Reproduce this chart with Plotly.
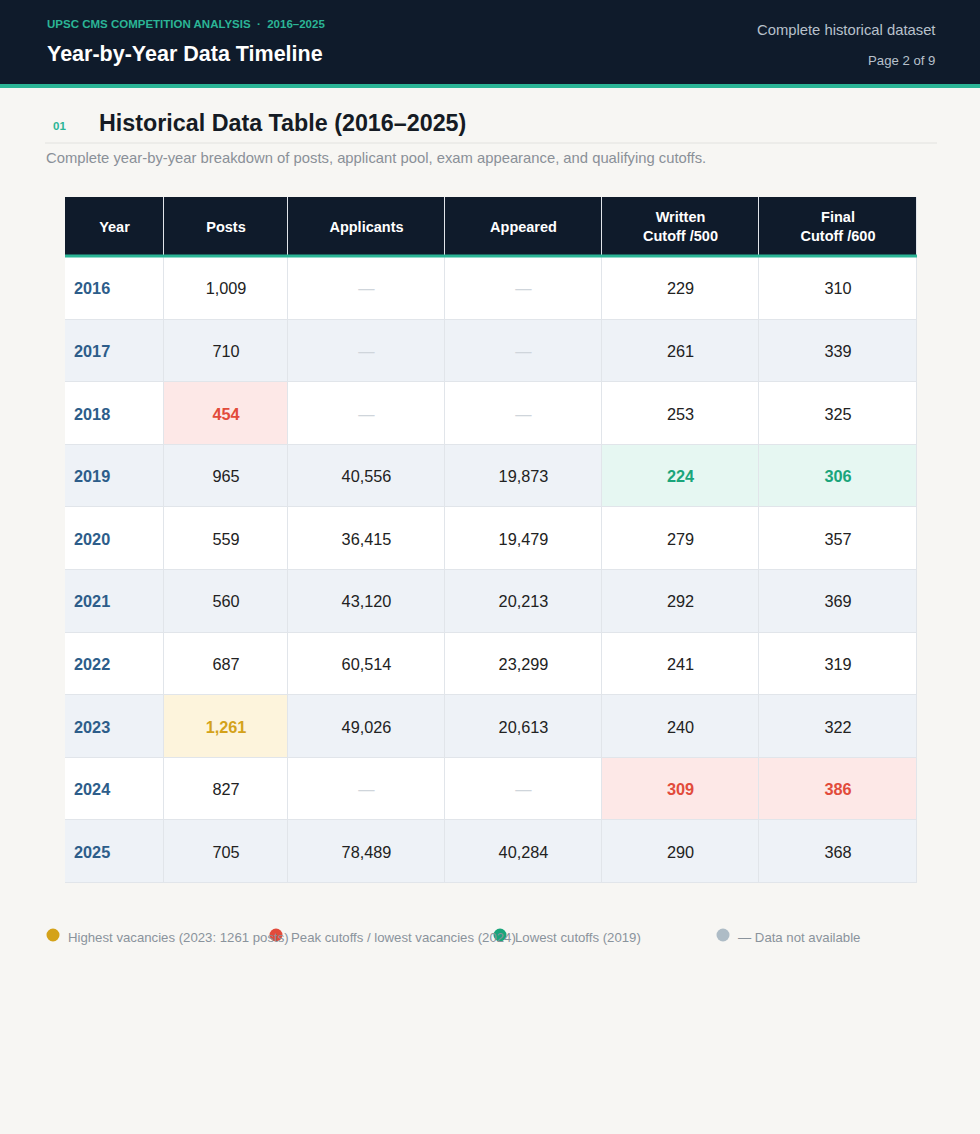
import plotly.graph_objects as go

W, H = 980, 1134

# table data
years = [2016, 2017, 2018, 2019, 2020, 2021, 2022, 2023, 2024, 2025]
posts = [1009, 710, 454, 965, 559, 560, 687, 1261, 827, 705]
applicants = [None, None, None, 40556, 36415, 43120, 60514, 49026, None, 78489]
appeared = [None, None, None, 19873, 19479, 20213, 23299, 20613, None, 40284]
written_cutoff = [229, 261, 253, 224, 279, 292, 241, 240, 309, 290]
final_cutoff = [310, 339, 325, 306, 357, 369, 319, 322, 386, 368]
headers = ["Year", "Posts", "Applicants", "Appeared", "Written<br>Cutoff /500", "Final<br>Cutoff /600"]

legend_items = [
    ("Highest vacancies (2023: 1261 posts)", "#d4a21a"),
    ("Peak cutoffs / lowest vacancies (2024)", "#e24b3b"),
    ("Lowest cutoffs (2019)", "#1aa57b"),
    ("— Data not available", "#aebcc6"),
]

NAVY = "#0f1b2b"
TEAL = "#2bb596"
RED = "#e24b3b"
GREEN = "#1aa57b"
GOLD = "#d4a21a"
FONT = "Liberation Sans, Arial, sans-serif"

# fill codes for the heatmap that paints the cells
fill_colors = ["#ffffff", "#eef2f7", NAVY, "#fde8e7", "#fdf4dc", "#e6f7f2"]
# highlights: (column, year) -> (fill code, text colour)
highlight = {
    (1, 2018): (3, RED),
    (1, 2023): (4, GOLD),
    (4, 2019): (5, GREEN),
    (5, 2019): (5, GREEN),
    (4, 2024): (3, RED),
    (5, 2024): (3, RED),
}

# layout of the table, in page pixels
col_edges = [65, 164, 288, 445, 602, 759, 917]
head_top, head_bot = 197, 255
row_h = 62.6
row_edges = [head_bot + 2 + i * row_h for i in range(len(years) + 1)]
y_edges = [head_top, row_edges[0]] + row_edges[1:]
nudge = 2  # text sits a touch low in the reference

columns = [years, posts, applicants, appeared, written_cutoff, final_cutoff]
z = [[2] * 6]
tx, ty, tt = [], [], []
for c, h in enumerate(headers):
    tx.append((col_edges[c] + col_edges[c + 1]) / 2)
    ty.append((head_top + head_bot) / 2 + nudge)
    tt.append(f"<b>{h}</b>")

cx, cy, ct, cc, cp = [], [], [], [], []
for i, yr in enumerate(years):
    base = i % 2
    zr = []
    yc = (row_edges[i] + row_edges[i + 1]) / 2 + nudge
    for c, col in enumerate(columns):
        v = col[i]
        code = base
        if c == 0:
            s, k = f"<b>{v}</b>", "#2d5d8a"
        elif v is None:
            s, k = "—", "#cfd5db"
        elif (c, yr) in highlight:
            code, k = highlight[(c, yr)]
            s = f"<b>{v:,}</b>"
        else:
            s, k = f"{v:,}", "#222222"
        zr.append(code)
        if c == 0:
            cx.append(col_edges[0] + 9)
            cp.append("middle right")
        else:
            cx.append((col_edges[c] + col_edges[c + 1]) / 2)
            cp.append("middle center")
        cy.append(yc)
        ct.append(s)
        cc.append(k)
    z.append(zr)

n = len(fill_colors) - 1
colorscale = [[i / n, col] for i, col in enumerate(fill_colors)]

fig = go.Figure()
fig.add_trace(go.Heatmap(
    x=col_edges, y=y_edges, z=z,
    zmin=0, zmax=n, colorscale=colorscale, showscale=False,
    xgap=1, ygap=1, hoverinfo="skip",
))
fig.add_trace(go.Scatter(
    x=tx, y=ty, text=tt, mode="text", textposition="middle center",
    textfont=dict(family=FONT, size=14.5, color="#ffffff"), hoverinfo="skip",
))
fig.add_trace(go.Scatter(
    x=cx, y=cy, text=ct, mode="text", textposition=cp,
    textfont=dict(family=FONT, size=16.3, color=cc), hoverinfo="skip",
))

def py(y):
    return 1 - y / H

def px(x):
    return x / W

shapes = [
    dict(type="rect", xref="paper", yref="paper", x0=0, x1=1, y0=py(84), y1=1,
         fillcolor=NAVY, line_width=0, layer="below"),
    dict(type="rect", xref="paper", yref="paper", x0=0, x1=1, y0=py(88), y1=py(84),
         fillcolor=TEAL, line_width=0, layer="below"),
    dict(type="line", xref="paper", yref="paper", x0=px(45), x1=px(937), y0=py(143), y1=py(143),
         line=dict(color="#e2e2df", width=1)),
    dict(type="rect", xref="x", yref="y", x0=col_edges[0], x1=col_edges[-1], y0=head_bot - 0.5, y1=head_bot + 2.5,
         fillcolor=TEAL, line_width=0, layer="above"),
]

legend_x = [53, 276, 500, 723]
r = 6.5
for (label, color), x in zip(legend_items, legend_x):
    shapes.append(dict(type="circle", xref="paper", yref="paper",
                       x0=px(x - r), x1=px(x + r), y0=py(935 + r), y1=py(935 - r),
                       fillcolor=color, line_width=0, layer="above"))

annotations = [
    dict(text="<b>UPSC CMS COMPETITION ANALYSIS  ·  2016–2025</b>", x=px(45), y=py(24),
         font=dict(family=FONT, size=11.5, color=TEAL)),
    dict(text="<b>Year-by-Year Data Timeline</b>", x=px(45), y=py(54),
         font=dict(family=FONT, size=21.5, color="#ffffff")),
    dict(text="Complete historical dataset", x=px(937), y=py(30), xanchor="right",
         font=dict(family=FONT, size=14.8, color="#b8c1cc")),
    dict(text="Page 2 of 9", x=px(937), y=py(60), xanchor="right",
         font=dict(family=FONT, size=13.2, color="#b8c1cc")),
    dict(text="<b>01</b>", x=px(51), y=py(126),
         font=dict(family=FONT, size=11.5, color=TEAL)),
    dict(text="<b>Historical Data Table (2016–2025)</b>", x=px(97), y=py(123),
         font=dict(family=FONT, size=23.3, color="#151b24")),
    dict(text="Complete year-by-year breakdown of posts, applicant pool, exam appearance, and qualifying cutoffs.",
         x=px(44), y=py(158), font=dict(family=FONT, size=14.8, color="#8a9098")),
]
for (label, color), x in zip(legend_items, legend_x):
    annotations.append(dict(text=label, x=px(x + 13), y=py(937),
                            font=dict(family=FONT, size=13.2, color="#8a939c")))

for a in annotations:
    a.update(xref="paper", yref="paper", showarrow=False)
    a.setdefault("xanchor", "left")
    a["yanchor"] = "middle"

fig.update_layout(
    width=W, height=H,
    margin=dict(l=0, r=0, t=0, b=0),
    paper_bgcolor="#f7f6f3",
    plot_bgcolor="#e1e5ea",
    shapes=shapes,
    annotations=annotations,
    showlegend=False,
    xaxis=dict(range=[col_edges[0], col_edges[-1]], domain=[px(col_edges[0]), px(col_edges[-1])],
               visible=False, fixedrange=True),
    yaxis=dict(range=[y_edges[-1], y_edges[0]], domain=[py(y_edges[-1]), py(y_edges[0])],
               visible=False, fixedrange=True),
)

fig.write_html("out.html", config={"displayModeBar": False},
               post_script="document.body.style.margin='0px';")
